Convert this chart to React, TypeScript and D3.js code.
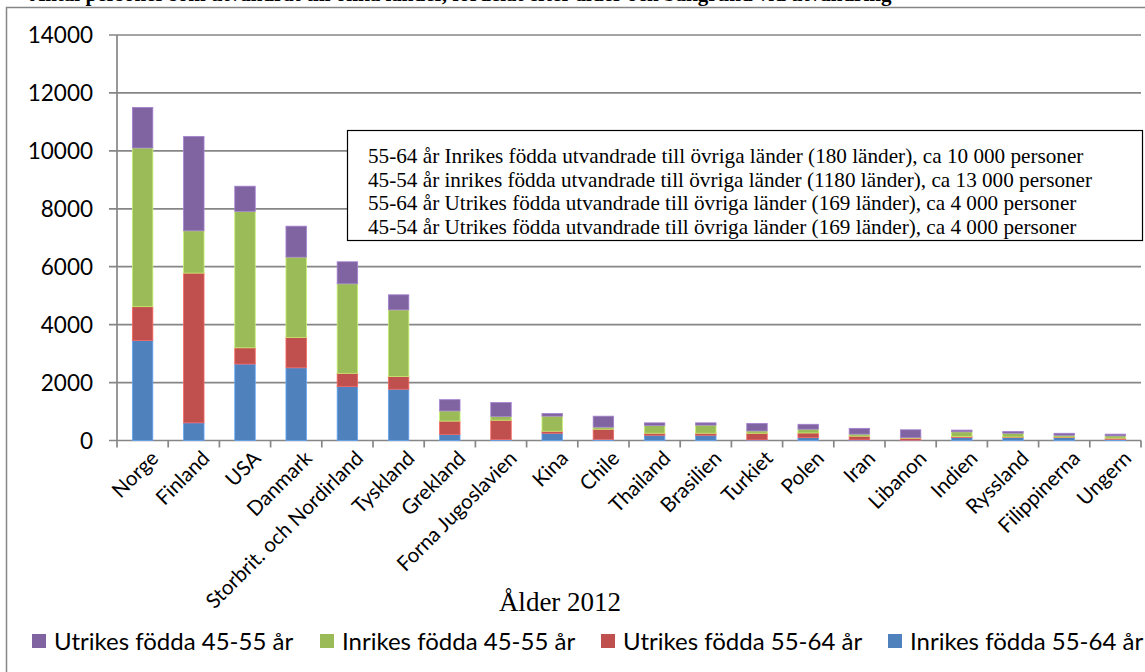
import React from "react";
import * as d3 from "d3";

// Countries on the x axis
const countries = [
  "Norge", "Finland", "USA", "Danmark", "Storbrit. och Nordirland", "Tyskland",
  "Grekland", "Forna Jugoslavien", "Kina", "Chile", "Thailand", "Brasilien",
  "Turkiet", "Polen", "Iran", "Libanon", "Indien", "Ryssland", "Filippinerna", "Ungern",
];

// Series, stacked bottom to top
const inrikes5564 = [3450, 610, 2640, 2510, 1860, 1770, 210, 30, 250, 40, 180, 180, 20, 100, 20, 10, 100, 100, 100, 40];
const utrikes5564 = [1170, 5170, 560, 1050, 460, 440, 460, 670, 70, 350, 70, 70, 230, 160, 130, 70, 40, 20, 20, 40];
const inrikes4555 = [5480, 1460, 4710, 2770, 3090, 2300, 350, 130, 520, 70, 270, 280, 80, 130, 70, 20, 160, 130, 60, 80];
const utrikes4555 = [1400, 3260, 870, 1070, 760, 520, 390, 480, 90, 380, 90, 80, 260, 170, 200, 270, 60, 60, 70, 60];

const seriesNames = ["Inrikes födda 55-64 år", "Utrikes födda 55-64 år", "Inrikes födda 45-55 år", "Utrikes födda 45-55 år"];
const seriesColors = ["#4F81BD", "#C0504D", "#9BBB59", "#8064A2"];
const legendOrder = [3, 2, 1, 0];

const yTicks = [0, 2000, 4000, 6000, 8000, 10000, 12000, 14000];

const noteLines = [
  "55-64 år Inrikes födda utvandrade till övriga länder (180 länder), ca 10 000 personer",
  "45-54 år inrikes födda utvandrade till övriga länder (1180 länder), ca 13 000 personer",
  "55-64 år Utrikes födda utvandrade till övriga länder (169 länder), ca 4 000 personer",
  "45-54 år Utrikes födda utvandrade till övriga länder (169 länder), ca 4 000 personer",
];

const W = 1145;
const H = 672;
const plot = { left: 117, right: 1141, top: 35, bottom: 440.5 };
const gridColor = "#868686";
const sansFont = "Lato, 'Open Sans', sans-serif";
const serifFont = "'Liberation Serif', 'DejaVu Serif', serif";

export default function App() {
  const table = countries.map((c, i) => ({
    country: c,
    s0: inrikes5564[i],
    s1: utrikes5564[i],
    s2: inrikes4555[i],
    s3: utrikes4555[i],
  }));
  const keys = ["s0", "s1", "s2", "s3"];
  const stacked = d3.stack<any>().keys(keys)(table);

  const x = d3.scaleBand<string>().domain(countries).range([plot.left, plot.right]).paddingInner(0.6).paddingOuter(0.3);
  const xOuter = d3.scaleBand<string>().domain(countries).range([plot.left, plot.right]);
  const y = d3.scaleLinear().domain([0, 14000]).range([plot.bottom, plot.top]);

  const legendX = [32, 320, 601, 888];

  return (
    <div style={{ position: "absolute", left: 0, top: 0 }}>
      <svg width={W} height={H} style={{ display: "block", background: "#fff" }}>
        <text x={30} y={0.5} fontFamily={serifFont} fontWeight="bold" fontSize={21} fill="#000">
          Antal personer som utvandrat till olika länder, fördelat efter ålder och bakgrund vid utvandring
        </text>
        <rect x={6.5} y={7.5} width={W + 10} height={H + 10} fill="none" stroke={gridColor} strokeWidth={1.5} />

        {/* horizontal gridlines and y ticks */}
        {yTicks.map((t) => (
          <g key={t}>
            <line x1={109} x2={plot.right} y1={y(t)} y2={y(t)} stroke={gridColor} strokeWidth={1.7} />
            <text x={93} y={y(t)} dy="0.36em" textAnchor="end" fontFamily={sansFont} fontSize={22.5} fill="#000">
              {t}
            </text>
          </g>
        ))}
        {/* y axis */}
        <line x1={plot.left} x2={plot.left} y1={plot.top} y2={plot.bottom} stroke={gridColor} strokeWidth={1.7} />
        {/* x ticks at category boundaries */}
        {countries.map((c) => (
          <line key={c} x1={xOuter(c)!} x2={xOuter(c)!} y1={plot.bottom} y2={plot.bottom + 7} stroke={gridColor} strokeWidth={1.7} />
        ))}
        <line x1={plot.right} x2={plot.right} y1={plot.bottom} y2={plot.bottom + 7} stroke={gridColor} strokeWidth={1.7} />

        {/* stacked bars */}
        {stacked.map((layer, si) => (
          <g key={layer.key} fill={seriesColors[si]}>
            {layer.map((d, i) => (
              <rect
                key={i}
                x={x(countries[i])!}
                width={x.bandwidth()}
                y={y(d[1])}
                height={Math.max(0, y(d[0]) - y(d[1]))}
                stroke={d3.color(seriesColors[si])!.brighter(0.7).toString()}
                strokeWidth={0.8}
              />
            ))}
          </g>
        ))}

        {/* category labels */}
        {countries.map((c) => {
          const cx = x(c)! + x.bandwidth() / 2 + 7;
          const cy = plot.bottom + 9;
          return (
            <text
              key={c}
              transform={`translate(${cx},${cy}) rotate(-45)`}
              textAnchor="end"
              dy="0.7em"
              fontFamily={sansFont}
              fontSize={20.5}
              fill="#000"
            >
              {c}
            </text>
          );
        })}

        {/* note box */}
        <rect x={347.5} y={130.5} width={795} height={110} fill="#fff" stroke="#000" strokeWidth={1.2} />
        {noteLines.map((line, i) => (
          <text key={i} x={368} y={163 + i * 23.7} fontFamily={serifFont} fontSize={21.2} fill="#000">
            {line}
          </text>
        ))}

        {/* axis title */}
        <text x={560} y={611} textAnchor="middle" fontFamily={serifFont} fontSize={27} fill="#000">
          Ålder 2012
        </text>

        {/* legend */}
        {legendOrder.map((si, k) => (
          <g key={si} transform={`translate(${legendX[k]},641)`}>
            <rect x={0} y={-7} width={14} height={14} fill={seriesColors[si]} />
            <text x={22} y={0} dy="0.36em" fontFamily={sansFont} fontSize={24} fill="#000">
              {seriesNames[si]}
            </text>
          </g>
        ))}
      </svg>
    </div>
  );
}
